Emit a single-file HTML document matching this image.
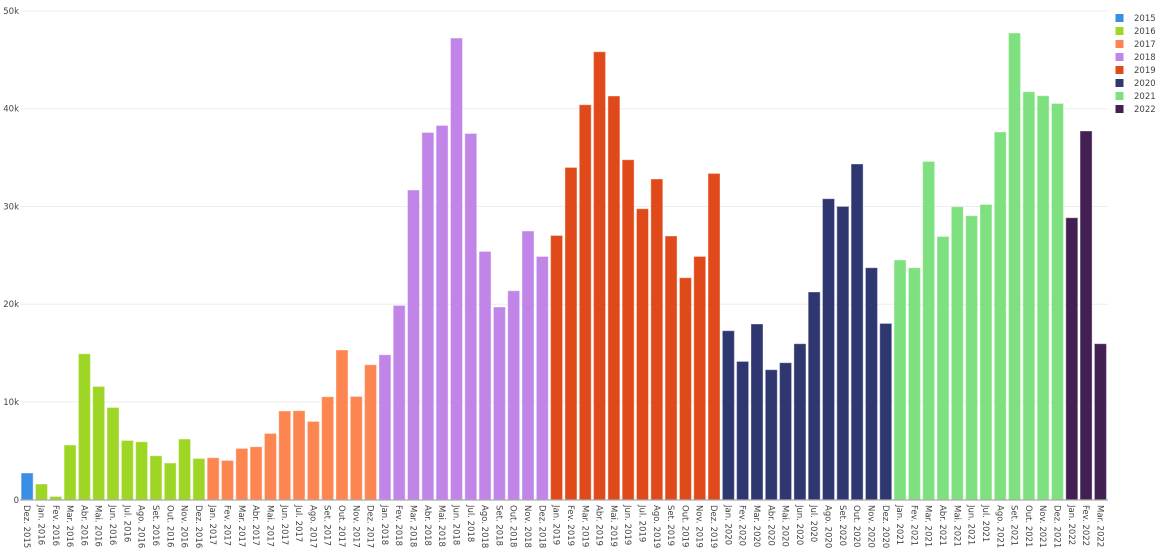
<!DOCTYPE html>
<html><head><meta charset="utf-8"><style>
html,body{margin:0;padding:0;background:#fff;}
svg{display:block;font-family:"DejaVu Sans","Liberation Sans",sans-serif;}
text{fill:#444;font-size:8.5px;}
</style></head><body>
<svg width="1161" height="555" viewBox="0 0 1161 555" xmlns="http://www.w3.org/2000/svg">
<g stroke="#eeeeee" stroke-width="1">
<line x1="20" x2="1108" y1="11" y2="11"/>
<line x1="20" x2="1108" y1="108.7" y2="108.7"/>
<line x1="20" x2="1108" y1="206.5" y2="206.5"/>
<line x1="20" x2="1108" y1="304.2" y2="304.2"/>
<line x1="20" x2="1108" y1="402" y2="402"/>
</g>
<g text-anchor="end">
<text x="19" y="14">50k</text>
<text x="19" y="111.7">40k</text>
<text x="19" y="209.5">30k</text>
<text x="19" y="307.2">20k</text>
<text x="19" y="405">10k</text>
<text x="19" y="503">0</text>
</g>
<g stroke-width="0.5">
<rect x="21.43" y="473.3" width="11.45" height="26.7" fill="#3a8ee6" stroke="#7fb6ee"/>
<g fill="#9ed626" stroke="#c3e67a">
<rect x="35.74" y="484.3" width="11.45" height="15.7"/>
<rect x="50.05" y="496.7" width="11.45" height="3.3"/>
<rect x="64.36" y="445.3" width="11.45" height="54.7"/>
<rect x="78.67" y="354" width="11.45" height="146"/>
<rect x="92.98" y="386.7" width="11.45" height="113.3"/>
<rect x="107.29" y="407.7" width="11.45" height="92.3"/>
<rect x="121.60" y="440.7" width="11.45" height="59.3"/>
<rect x="135.91" y="442" width="11.45" height="58"/>
<rect x="150.22" y="456" width="11.45" height="44"/>
<rect x="164.53" y="463.3" width="11.45" height="36.7"/>
<rect x="178.84" y="439.3" width="11.45" height="60.7"/>
<rect x="193.15" y="458.7" width="11.45" height="41.3"/>
</g>
<g fill="#fd8550" stroke="#feb08e">
<rect x="207.46" y="458" width="11.45" height="42"/>
<rect x="221.77" y="460.7" width="11.45" height="39.3"/>
<rect x="236.08" y="448.7" width="11.45" height="51.3"/>
<rect x="250.39" y="447" width="11.45" height="53"/>
<rect x="264.70" y="433.7" width="11.45" height="66.3"/>
<rect x="279.01" y="411.3" width="11.45" height="88.7"/>
<rect x="293.32" y="411" width="11.45" height="89"/>
<rect x="307.63" y="421.7" width="11.45" height="78.3"/>
<rect x="321.94" y="397" width="11.45" height="103"/>
<rect x="336.25" y="350.3" width="11.45" height="149.7"/>
<rect x="350.56" y="396.7" width="11.45" height="103.3"/>
<rect x="364.87" y="365" width="11.45" height="135"/>
</g>
<g fill="#c185e8" stroke="#d9b3f1">
<rect x="379.18" y="355" width="11.45" height="145"/>
<rect x="393.49" y="305.7" width="11.45" height="194.3"/>
<rect x="407.80" y="190.3" width="11.45" height="309.7"/>
<rect x="422.11" y="132.7" width="11.45" height="367.3"/>
<rect x="436.42" y="125.7" width="11.45" height="374.3"/>
<rect x="450.73" y="38.3" width="11.45" height="461.7"/>
<rect x="465.04" y="133.7" width="11.45" height="366.3"/>
<rect x="479.35" y="251.7" width="11.45" height="248.3"/>
<rect x="493.66" y="307.3" width="11.45" height="192.7"/>
<rect x="507.97" y="291" width="11.45" height="209"/>
<rect x="522.28" y="231.3" width="11.45" height="268.7"/>
<rect x="536.59" y="256.7" width="11.45" height="243.3"/>
</g>
<g fill="#e04a1a" stroke="#ec8a6b">
<rect x="550.90" y="235.7" width="11.45" height="264.3"/>
<rect x="565.21" y="167.7" width="11.45" height="332.3"/>
<rect x="579.52" y="105" width="11.45" height="395"/>
<rect x="593.83" y="52" width="11.45" height="448"/>
<rect x="608.14" y="96.3" width="11.45" height="403.7"/>
<rect x="622.45" y="160" width="11.45" height="340"/>
<rect x="636.76" y="209" width="11.45" height="291"/>
<rect x="651.07" y="179.3" width="11.45" height="320.7"/>
<rect x="665.38" y="236.3" width="11.45" height="263.7"/>
<rect x="679.69" y="278" width="11.45" height="222"/>
<rect x="694.00" y="256.7" width="11.45" height="243.3"/>
<rect x="708.31" y="173.7" width="11.45" height="326.3"/>
</g>
<g fill="#2e376f" stroke="#7077a0">
<rect x="722.62" y="331" width="11.45" height="169"/>
<rect x="736.93" y="361.7" width="11.45" height="138.3"/>
<rect x="751.24" y="324.3" width="11.45" height="175.7"/>
<rect x="765.55" y="370" width="11.45" height="130"/>
<rect x="779.86" y="363" width="11.45" height="137"/>
<rect x="794.17" y="344" width="11.45" height="156"/>
<rect x="808.48" y="292.3" width="11.45" height="207.7"/>
<rect x="822.79" y="199" width="11.45" height="301"/>
<rect x="837.10" y="206.7" width="11.45" height="293.3"/>
<rect x="851.41" y="164.3" width="11.45" height="335.7"/>
<rect x="865.72" y="268" width="11.45" height="232"/>
<rect x="880.03" y="323.7" width="11.45" height="176.3"/>
</g>
<g fill="#7fe07f" stroke="#aeecae">
<rect x="894.34" y="260.3" width="11.45" height="239.7"/>
<rect x="908.65" y="268" width="11.45" height="232"/>
<rect x="922.96" y="161.7" width="11.45" height="338.3"/>
<rect x="937.27" y="236.7" width="11.45" height="263.3"/>
<rect x="951.58" y="207" width="11.45" height="293"/>
<rect x="965.89" y="216" width="11.45" height="284"/>
<rect x="980.20" y="204.7" width="11.45" height="295.3"/>
<rect x="994.51" y="132.3" width="11.45" height="367.7"/>
<rect x="1008.82" y="33.3" width="11.45" height="466.7"/>
<rect x="1023.13" y="92" width="11.45" height="408"/>
<rect x="1037.44" y="96" width="11.45" height="404"/>
<rect x="1051.75" y="103.7" width="11.45" height="396.3"/>
</g>
<g fill="#441f52" stroke="#7f6589">
<rect x="1066.06" y="218" width="11.45" height="282"/>
<rect x="1080.37" y="131.3" width="11.45" height="368.7"/>
<rect x="1094.68" y="344" width="11.45" height="156"/>
</g>
</g>
<line x1="20" x2="1108" y1="500" y2="500" stroke="#aaaaaa" stroke-width="1.2"/>
<g dy="0.35em">
<text transform="translate(27.16,505) rotate(90)" dy="0.35em">Dez. 2015</text>
<text transform="translate(41.47,505) rotate(90)" dy="0.35em">Jan. 2016</text>
<text transform="translate(55.78,505) rotate(90)" dy="0.35em">Fev. 2016</text>
<text transform="translate(70.09,505) rotate(90)" dy="0.35em">Mar. 2016</text>
<text transform="translate(84.40,505) rotate(90)" dy="0.35em">Abr. 2016</text>
<text transform="translate(98.71,505) rotate(90)" dy="0.35em">Mai. 2016</text>
<text transform="translate(113.02,505) rotate(90)" dy="0.35em">Jun. 2016</text>
<text transform="translate(127.33,505) rotate(90)" dy="0.35em">Jul. 2016</text>
<text transform="translate(141.64,505) rotate(90)" dy="0.35em">Ago. 2016</text>
<text transform="translate(155.95,505) rotate(90)" dy="0.35em">Set. 2016</text>
<text transform="translate(170.26,505) rotate(90)" dy="0.35em">Out. 2016</text>
<text transform="translate(184.57,505) rotate(90)" dy="0.35em">Nov. 2016</text>
<text transform="translate(198.88,505) rotate(90)" dy="0.35em">Dez. 2016</text>
<text transform="translate(213.19,505) rotate(90)" dy="0.35em">Jan. 2017</text>
<text transform="translate(227.50,505) rotate(90)" dy="0.35em">Fev. 2017</text>
<text transform="translate(241.81,505) rotate(90)" dy="0.35em">Mar. 2017</text>
<text transform="translate(256.12,505) rotate(90)" dy="0.35em">Abr. 2017</text>
<text transform="translate(270.43,505) rotate(90)" dy="0.35em">Mai. 2017</text>
<text transform="translate(284.74,505) rotate(90)" dy="0.35em">Jun. 2017</text>
<text transform="translate(299.05,505) rotate(90)" dy="0.35em">Jul. 2017</text>
<text transform="translate(313.36,505) rotate(90)" dy="0.35em">Ago. 2017</text>
<text transform="translate(327.67,505) rotate(90)" dy="0.35em">Set. 2017</text>
<text transform="translate(341.98,505) rotate(90)" dy="0.35em">Out. 2017</text>
<text transform="translate(356.29,505) rotate(90)" dy="0.35em">Nov. 2017</text>
<text transform="translate(370.60,505) rotate(90)" dy="0.35em">Dez. 2017</text>
<text transform="translate(384.91,505) rotate(90)" dy="0.35em">Jan. 2018</text>
<text transform="translate(399.22,505) rotate(90)" dy="0.35em">Fev. 2018</text>
<text transform="translate(413.53,505) rotate(90)" dy="0.35em">Mar. 2018</text>
<text transform="translate(427.84,505) rotate(90)" dy="0.35em">Abr. 2018</text>
<text transform="translate(442.15,505) rotate(90)" dy="0.35em">Mai. 2018</text>
<text transform="translate(456.46,505) rotate(90)" dy="0.35em">Jun. 2018</text>
<text transform="translate(470.77,505) rotate(90)" dy="0.35em">Jul. 2018</text>
<text transform="translate(485.08,505) rotate(90)" dy="0.35em">Ago. 2018</text>
<text transform="translate(499.39,505) rotate(90)" dy="0.35em">Set. 2018</text>
<text transform="translate(513.70,505) rotate(90)" dy="0.35em">Out. 2018</text>
<text transform="translate(528.01,505) rotate(90)" dy="0.35em">Nov. 2018</text>
<text transform="translate(542.32,505) rotate(90)" dy="0.35em">Dez. 2018</text>
<text transform="translate(556.63,505) rotate(90)" dy="0.35em">Jan. 2019</text>
<text transform="translate(570.94,505) rotate(90)" dy="0.35em">Fev. 2019</text>
<text transform="translate(585.25,505) rotate(90)" dy="0.35em">Mar. 2019</text>
<text transform="translate(599.56,505) rotate(90)" dy="0.35em">Abr. 2019</text>
<text transform="translate(613.87,505) rotate(90)" dy="0.35em">Mai. 2019</text>
<text transform="translate(628.18,505) rotate(90)" dy="0.35em">Jun. 2019</text>
<text transform="translate(642.49,505) rotate(90)" dy="0.35em">Jul. 2019</text>
<text transform="translate(656.80,505) rotate(90)" dy="0.35em">Ago. 2019</text>
<text transform="translate(671.11,505) rotate(90)" dy="0.35em">Set. 2019</text>
<text transform="translate(685.42,505) rotate(90)" dy="0.35em">Out. 2019</text>
<text transform="translate(699.73,505) rotate(90)" dy="0.35em">Nov. 2019</text>
<text transform="translate(714.04,505) rotate(90)" dy="0.35em">Dez. 2019</text>
<text transform="translate(728.35,505) rotate(90)" dy="0.35em">Jan. 2020</text>
<text transform="translate(742.66,505) rotate(90)" dy="0.35em">Fev. 2020</text>
<text transform="translate(756.97,505) rotate(90)" dy="0.35em">Mar. 2020</text>
<text transform="translate(771.28,505) rotate(90)" dy="0.35em">Abr. 2020</text>
<text transform="translate(785.59,505) rotate(90)" dy="0.35em">Mai. 2020</text>
<text transform="translate(799.90,505) rotate(90)" dy="0.35em">Jun. 2020</text>
<text transform="translate(814.21,505) rotate(90)" dy="0.35em">Jul. 2020</text>
<text transform="translate(828.52,505) rotate(90)" dy="0.35em">Ago. 2020</text>
<text transform="translate(842.83,505) rotate(90)" dy="0.35em">Set. 2020</text>
<text transform="translate(857.14,505) rotate(90)" dy="0.35em">Out. 2020</text>
<text transform="translate(871.45,505) rotate(90)" dy="0.35em">Nov. 2020</text>
<text transform="translate(885.76,505) rotate(90)" dy="0.35em">Dez. 2020</text>
<text transform="translate(900.07,505) rotate(90)" dy="0.35em">Jan. 2021</text>
<text transform="translate(914.38,505) rotate(90)" dy="0.35em">Fev. 2021</text>
<text transform="translate(928.69,505) rotate(90)" dy="0.35em">Mar. 2021</text>
<text transform="translate(943.00,505) rotate(90)" dy="0.35em">Abr. 2021</text>
<text transform="translate(957.31,505) rotate(90)" dy="0.35em">Mai. 2021</text>
<text transform="translate(971.62,505) rotate(90)" dy="0.35em">Jun. 2021</text>
<text transform="translate(985.93,505) rotate(90)" dy="0.35em">Jul. 2021</text>
<text transform="translate(1000.24,505) rotate(90)" dy="0.35em">Ago. 2021</text>
<text transform="translate(1014.55,505) rotate(90)" dy="0.35em">Set. 2021</text>
<text transform="translate(1028.86,505) rotate(90)" dy="0.35em">Out. 2021</text>
<text transform="translate(1043.17,505) rotate(90)" dy="0.35em">Nov. 2021</text>
<text transform="translate(1057.48,505) rotate(90)" dy="0.35em">Dez. 2021</text>
<text transform="translate(1071.79,505) rotate(90)" dy="0.35em">Jan. 2022</text>
<text transform="translate(1086.10,505) rotate(90)" dy="0.35em">Fev. 2022</text>
<text transform="translate(1100.41,505) rotate(90)" dy="0.35em">Mar. 2022</text>
</g>
<g>
<rect x="1115.5" y="14" width="8" height="8" fill="#3a8ee6"/><text x="1134" y="21">2015</text>
<rect x="1115.5" y="27" width="8" height="8" fill="#9ed626"/><text x="1134" y="34">2016</text>
<rect x="1115.5" y="40" width="8" height="8" fill="#fd8550"/><text x="1134" y="47">2017</text>
<rect x="1115.5" y="53" width="8" height="8" fill="#c185e8"/><text x="1134" y="60">2018</text>
<rect x="1115.5" y="66" width="8" height="8" fill="#e04a1a"/><text x="1134" y="73">2019</text>
<rect x="1115.5" y="79" width="8" height="8" fill="#2e376f"/><text x="1134" y="86">2020</text>
<rect x="1115.5" y="92" width="8" height="8" fill="#7fe07f"/><text x="1134" y="99">2021</text>
<rect x="1115.5" y="105" width="8" height="8" fill="#441f52"/><text x="1134" y="112">2022</text>
</g>
</svg>
</body></html>
